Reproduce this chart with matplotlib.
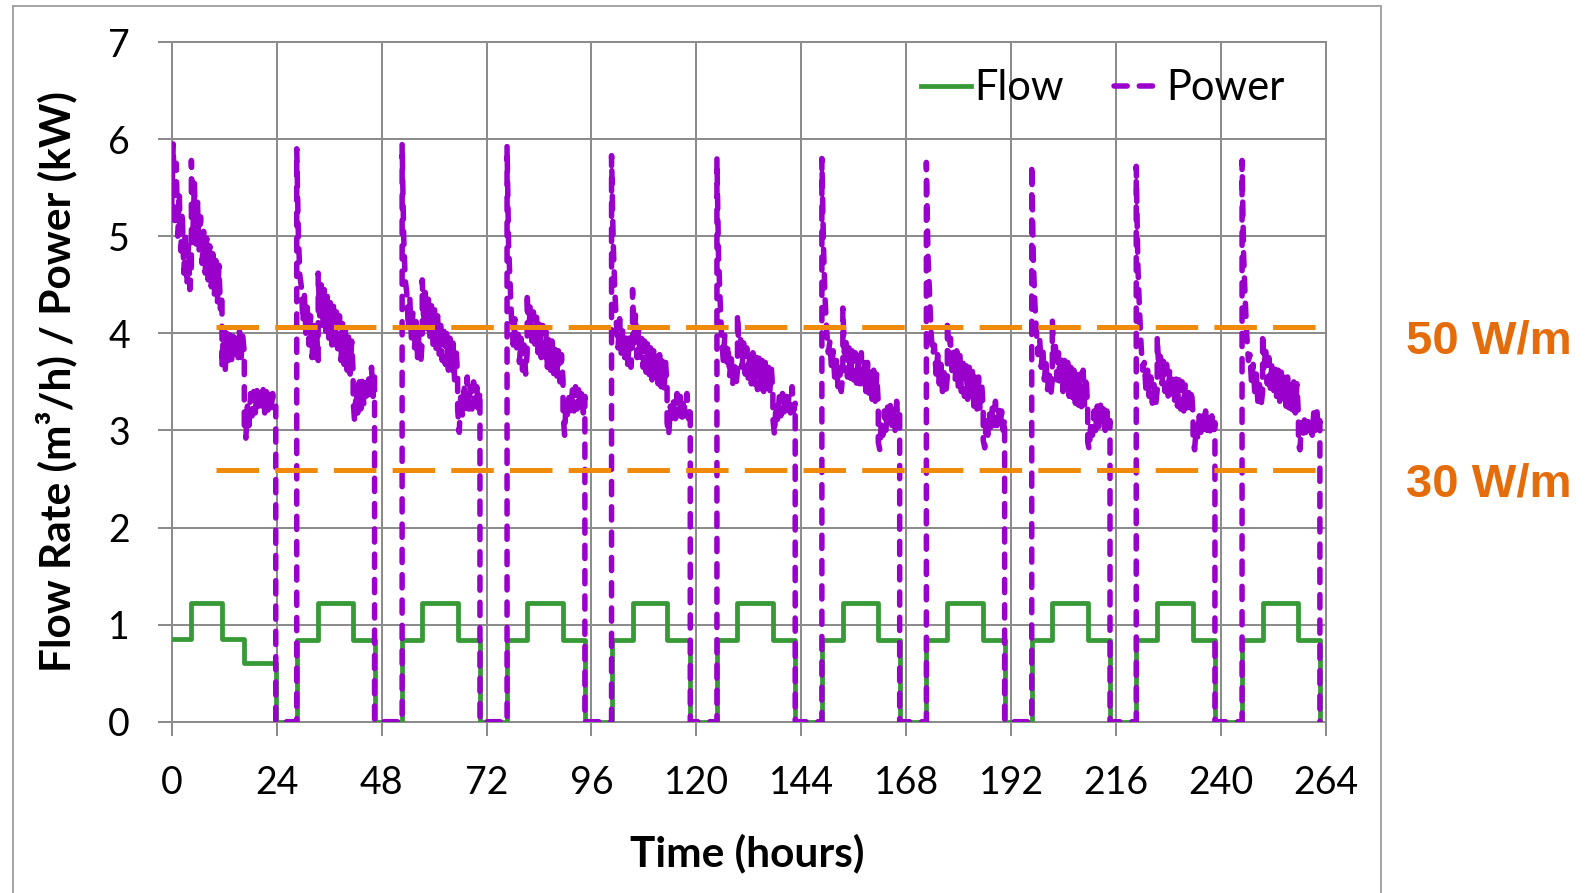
import numpy as np
import matplotlib
matplotlib.use("Agg")
import matplotlib.pyplot as plt
from matplotlib.lines import Line2D
from matplotlib.patches import Rectangle
import matplotlib.transforms as mtransforms

# ---------------- data ----------------
# cycle switching times in hours: [start, flow up, flow down, (2nd step), off]
cycle_bounds = [
    [0.0, 4.5, 11.5, 16.6, 23.8],
    [28.6, 33.5, 41.5, 46.4],
    [52.7, 57.3, 65.4, 70.5],
    [76.7, 81.3, 89.5, 94.5],
    [100.6, 105.4, 113.3, 118.6],
    [124.7, 129.4, 137.5, 142.6],
    [148.7, 153.5, 161.6, 166.5],
    [172.6, 177.4, 185.6, 190.5],
    [196.7, 201.4, 209.5, 214.6],
    [220.6, 225.4, 233.6, 238.6],
    [244.8, 249.5, 257.7, 262.6],
]

# flow rate level (m3/h) within each segment of each cycle
flow_levels = [
    [0.85, 1.22, 0.85, 0.60],
    [0.84, 1.22, 0.84],
    [0.84, 1.22, 0.84],
    [0.84, 1.22, 0.84],
    [0.84, 1.22, 0.84],
    [0.84, 1.22, 0.84],
    [0.84, 1.22, 0.84],
    [0.84, 1.22, 0.84],
    [0.84, 1.22, 0.84],
    [0.84, 1.22, 0.84],
    [0.84, 1.22, 0.84],
]

# power (kW) readings within each segment of each cycle
power_c1 = [
    [5.30, 5.95, 5.10, 5.75, 5.00, 5.45, 4.85, 5.25, 4.62, 5.05, 4.50, 4.90, 4.45, 4.70],
    [5.78, 5.05, 5.55, 4.92, 5.35, 4.85, 5.20, 4.72, 5.05, 4.62, 4.98, 4.55, 4.90, 4.48,
     4.82, 4.40, 4.75, 4.32, 4.70, 4.25, 4.40],
    [3.65, 4.05, 3.60, 4.00, 3.72, 4.02, 3.70, 3.98, 3.75, 4.00, 3.72, 4.02, 3.75, 3.98, 3.80],
    [3.00, 2.92, 3.25, 3.05, 3.38, 3.15, 3.40, 3.18, 3.42, 3.20, 3.45, 3.22, 3.42, 3.18,
     3.40, 3.20, 3.42, 3.20, 3.38, 3.22, 3.25],
]
power_c2 = [
    [5.90, 5.05, 4.60, 4.48, 4.12, 4.40, 4.00, 4.30, 3.88, 4.18, 3.75, 4.08, 3.70, 4.00, 3.72],
    [4.62, 4.18, 4.50, 4.08, 4.45, 4.02, 4.38, 3.95, 4.33, 3.88, 4.30, 3.85, 4.22, 3.78,
     4.18, 3.72, 4.10, 3.68, 4.05, 3.62, 3.98, 3.58, 3.92, 3.60],
    [3.30, 3.08, 3.45, 3.18, 3.50, 3.22, 3.52, 3.25, 3.55, 3.30, 3.58, 3.32, 3.65, 3.35, 3.55],
]
power_c3 = [
    [5.95, 5.00, 4.55, 4.42, 4.05, 4.35, 3.95, 4.22, 3.85, 4.12, 3.75, 4.02, 3.68, 3.92],
    [4.55, 4.10, 4.42, 4.00, 4.35, 3.95, 4.30, 3.88, 4.25, 3.82, 4.18, 3.78, 4.12, 3.72,
     4.08, 3.68, 4.02, 3.62, 3.95, 3.58, 3.90, 3.52, 3.85, 3.55],
    [3.22, 2.98, 3.38, 3.15, 3.48, 3.20, 3.55, 3.22, 3.45, 3.22, 3.50, 3.25, 3.45, 3.22, 3.40],
]
power_c4 = [
    [5.93, 4.90, 4.50, 4.10, 3.88, 4.15, 3.80, 4.05, 3.70, 3.95, 3.62, 3.88, 3.58, 3.80],
    [4.42, 3.98, 4.30, 3.92, 4.22, 3.85, 4.18, 3.80, 4.12, 3.75, 4.08, 3.70, 4.02, 3.65,
     3.98, 3.62, 3.92, 3.58, 3.88, 3.55, 3.82, 3.50, 3.78, 3.52],
    [3.18, 2.95, 3.32, 3.12, 3.40, 3.18, 3.42, 3.20, 3.45, 3.22, 3.42, 3.20, 3.40, 3.18, 3.35],
]
power_c5 = [
    [5.83, 4.95, 4.45, 4.10, 3.85, 4.15, 3.78, 4.05, 3.72, 3.98, 3.68, 3.95, 3.65, 3.90],
    [4.45, 3.90, 4.20, 3.75, 4.05, 3.70, 3.98, 3.65, 3.92, 3.60, 3.90, 3.55, 3.85, 3.52,
     3.82, 3.50, 3.80, 3.48, 3.78, 3.45, 3.75, 3.42, 3.70, 3.45],
    [3.08, 2.95, 3.25, 3.08, 3.32, 3.12, 3.38, 3.15, 3.35, 3.12, 3.32, 3.15, 3.38, 3.12, 3.25],
]
power_c6 = [
    [5.80, 4.80, 4.35, 3.95, 3.72, 3.98, 3.65, 3.88, 3.55, 3.78, 3.48, 3.70, 3.45, 3.62],
    [4.20, 3.78, 3.95, 3.65, 3.90, 3.58, 3.85, 3.52, 3.82, 3.48, 3.80, 3.45, 3.78, 3.42,
     3.75, 3.40, 3.72, 3.40, 3.70, 3.38, 3.68, 3.40, 3.65, 3.38],
    [3.12, 2.95, 3.28, 3.10, 3.35, 3.15, 3.38, 3.18, 3.40, 3.15, 3.35, 3.18, 3.45, 3.20, 3.28],
]
power_c7 = [
    [5.80, 4.90, 4.35, 4.02, 3.80, 3.92, 3.62, 3.82, 3.52, 3.72, 3.45, 3.65, 3.40, 3.58],
    [4.26, 3.80, 3.95, 3.55, 3.85, 3.50, 3.82, 3.52, 3.80, 3.45, 3.78, 3.48, 3.80, 3.42,
     3.72, 3.40, 3.70, 3.35, 3.65, 3.32, 3.62, 3.30, 3.58, 3.28],
    [2.88, 2.80, 3.10, 2.95, 3.20, 3.00, 3.25, 3.05, 3.28, 3.05, 3.22, 3.00, 3.30, 3.05, 3.22],
]
power_c8 = [
    [5.76, 4.80, 4.40, 3.98, 3.78, 3.88, 3.58, 3.78, 3.48, 3.68, 3.40, 3.60, 3.38, 3.55],
    [4.14, 3.72, 3.95, 3.58, 3.85, 3.52, 3.82, 3.45, 3.80, 3.40, 3.75, 3.35, 3.70, 3.32,
     3.65, 3.30, 3.62, 3.25, 3.58, 3.22, 3.55, 3.20, 3.50, 3.22],
    [2.90, 2.82, 3.10, 2.95, 3.18, 3.00, 3.25, 3.05, 3.30, 3.05, 3.22, 3.02, 3.20, 3.00, 3.12],
]
power_c9 = [
    [5.74, 4.75, 4.30, 4.00, 3.78, 3.95, 3.65, 3.85, 3.52, 3.72, 3.42, 3.62, 3.35, 3.52],
    [4.15, 3.75, 3.88, 3.52, 3.80, 3.45, 3.75, 3.40, 3.72, 3.38, 3.70, 3.35, 3.65, 3.30,
     3.62, 3.28, 3.60, 3.25, 3.58, 3.22, 3.62, 3.25, 3.55, 3.22],
    [2.88, 2.80, 3.10, 2.95, 3.20, 3.00, 3.25, 3.02, 3.28, 3.05, 3.22, 3.00, 3.20, 3.00, 3.10],
]
power_c10 = [
    [5.72, 4.70, 4.25, 3.88, 3.62, 3.70, 3.42, 3.62, 3.35, 3.55, 3.28, 3.48, 3.25, 3.42],
    [3.97, 3.62, 3.82, 3.48, 3.72, 3.40, 3.68, 3.35, 3.62, 3.32, 3.58, 3.28, 3.55, 3.25,
     3.52, 3.22, 3.50, 3.20, 3.48, 3.18, 3.45, 3.18, 3.42, 3.15],
    [2.88, 2.80, 3.05, 2.92, 3.15, 2.98, 3.18, 3.00, 3.20, 3.00, 3.18, 2.98, 3.15, 2.98, 3.08],
]
power_c11 = [
    [5.78, 4.80, 4.35, 3.98, 3.72, 3.78, 3.48, 3.68, 3.40, 3.58, 3.30, 3.48, 3.25, 3.40],
    [4.00, 3.65, 3.85, 3.48, 3.75, 3.42, 3.70, 3.38, 3.65, 3.35, 3.62, 3.30, 3.60, 3.28,
     3.58, 3.25, 3.55, 3.22, 3.52, 3.20, 3.50, 3.18, 3.48, 3.15],
    [2.85, 2.80, 3.08, 2.92, 3.12, 2.98, 3.15, 3.00, 3.12, 2.95, 3.18, 3.00, 3.22, 3.00, 3.10],
]
power_cycles = [power_c1, power_c2, power_c3, power_c4, power_c5, power_c6,
                power_c7, power_c8, power_c9, power_c10, power_c11]

# reference heat extraction levels
ref_levels = [4.06, 2.59]
ref_labels = ["50 W/m", "30 W/m"]
ref_span = [10.2, 261.6]

x_ticks = [0, 24, 48, 72, 96, 120, 144, 168, 192, 216, 240, 264]
y_ticks = [0, 1, 2, 3, 4, 5, 6, 7]

# ---------------- assemble series ----------------
t_p, v_p, t_f, v_f = [], [], [], []
for i, bounds in enumerate(cycle_bounds):
    segs = power_cycles[i]
    levels = flow_levels[i]
    if i > 0:
        t_p.append(bounds[0]); v_p.append(0.0)
        t_f.append(bounds[0]); v_f.append(0.0)
    for j, seg in enumerate(segs):
        ts = np.linspace(bounds[j], bounds[j + 1], len(seg))
        t_p.extend(ts); v_p.extend(seg)
        t_f.extend([bounds[j], bounds[j + 1]]); v_f.extend([levels[j], levels[j]])
    t_p.append(bounds[-1]); v_p.append(0.0)
    t_f.append(bounds[-1]); v_f.append(0.0)

# ---------------- styling ----------------
plt.rcParams["font.family"] = ["Lato", "DejaVu Sans"]
W, H = 1587, 893
DPI = 100
fig = plt.figure(figsize=(W / DPI, H / DPI), dpi=DPI)
fig.patch.set_facecolor("white")

px = 72.0 / DPI  # points per pixel

ax_l, ax_r, ax_t, ax_b = 171.7, 1326.0, 42.0, 721.7
ax = fig.add_axes([ax_l / W, 1 - ax_b / H, (ax_r - ax_l) / W, (ax_b - ax_t) / H])

GRID = "#8c8c8c"
GREEN = "#379a37"
PURPLE = "#9900cc"
ORANGE = "#f08a0a"
TXT_ORANGE = "#e56c0a"
PDASH = (0, (2.4, 2.2))
PLW = 5.5 * px

ax.set_xlim(0, 264)
ax.set_ylim(0, 7)
ax.set_xticks(x_ticks)
ax.set_yticks(y_ticks)
ax.grid(True, color=GRID, linewidth=2 * px)
ax.set_axisbelow(True)
for s in ax.spines.values():
    s.set_color(GRID)
    s.set_linewidth(2 * px)
ax.tick_params(axis="both", colors=GRID, width=2 * px, length=14 * px,
               labelcolor="black", labelsize=27)
ax.tick_params(axis="x", pad=21)
ax.tick_params(axis="y", pad=20)

ax.plot(t_f, v_f, color=GREEN, linewidth=4.8 * px, zorder=3,
        solid_joinstyle="round", solid_capstyle="round")
ax.plot(t_p, v_p, color=PURPLE, linewidth=PLW, zorder=4,
        linestyle=PDASH, dash_capstyle="round", dash_joinstyle="round")

for lvl in ref_levels:
    ax.plot(ref_span, [lvl, lvl], color=ORANGE, linewidth=5 * px, zorder=5,
            linestyle=(0, (8.5, 3.24)), dash_capstyle="butt")

trans = mtransforms.blended_transform_factory(ax.transAxes, ax.transData)
trans = mtransforms.offset_copy(trans, fig=fig, x=0, y=-14 * px, units="points")
for lvl, lab in zip(ref_levels, ref_labels):
    ax.text((1406 - ax_l) / (ax_r - ax_l), lvl, lab, transform=trans,
            ha="left", va="center", fontsize=34, fontweight="bold",
            color=TXT_ORANGE, family=["Liberation Sans", "DejaVu Sans"],
            clip_on=False)

handles = [Line2D([], [], color=GREEN, linewidth=4.8 * px),
           Line2D([], [], color=PURPLE, linewidth=PLW,
                  linestyle=PDASH, dash_capstyle="round")]
leg = ax.legend(handles, ["Flow", "Power"], loc="center",
                bbox_to_anchor=(0.8068, 0.932), ncol=2, frameon=False,
                fontsize=30, handlelength=1.2, handletextpad=0.06,
                columnspacing=1.2, borderpad=0, borderaxespad=0)

fig.text(747.5 / W, 1 - 853 / H, "Time (hours)", ha="center", va="center",
         fontsize=30.5, fontweight="bold")
fig.text(56 / W, 1 - 382 / H, "Flow Rate (m\u00b3/h) / Power (kW)", ha="center",
         va="center", rotation=90, fontsize=30.5, fontweight="bold")

# outer chart border
fig.patches.append(Rectangle((13 / W, -0.05), (1381 - 13) / W, 1.05 - 6 / H,
                             transform=fig.transFigure, fill=False,
                             edgecolor="#a6a6a6", linewidth=2 * px))

fig.savefig("out.png", dpi=DPI, facecolor="white")
